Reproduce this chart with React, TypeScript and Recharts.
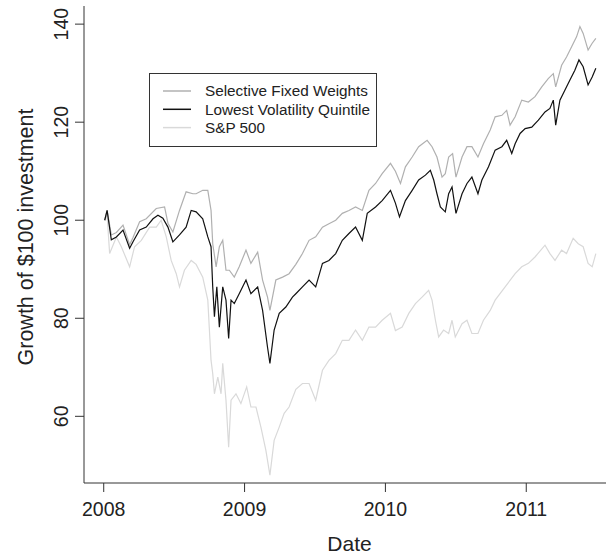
import { LineChart, Line, XAxis, YAxis, Legend } from 'recharts';

const FONT = '"Liberation Sans", Arial, Helvetica, sans-serif';
const TEXT = '#222';
const FRAME = '#333';

const SERIES_NAMES = ['Selective Fixed Weights', 'Lowest Volatility Quintile', 'S&P 500'];
const SERIES_COLORS = ['#b0b0b0', '#111111', '#d9d9d9'];

const X_TICKS = [2008, 2009, 2010, 2011];
const Y_TICKS = [60, 80, 100, 120, 140];

// Selective Fixed Weights
const sfwDates = [
  2008.007, 2008.024, 2008.054, 2008.09, 2008.137, 2008.184, 2008.208, 2008.255, 2008.302, 2008.373,
  2008.432, 2008.456, 2008.491, 2008.538, 2008.585, 2008.633, 2008.656, 2008.703, 2008.739, 2008.762,
  2008.774, 2008.798, 2008.821, 2008.845, 2008.868, 2008.892, 2008.927, 2008.962, 2009.01, 2009.045,
  2009.093, 2009.128, 2009.163, 2009.18, 2009.222, 2009.27, 2009.316, 2009.364, 2009.411, 2009.458,
  2009.505, 2009.553, 2009.599, 2009.647, 2009.694, 2009.741, 2009.788, 2009.836, 2009.883, 2009.93,
  2009.977, 2010.036, 2010.071, 2010.107, 2010.142, 2010.19, 2010.236, 2010.296, 2010.331, 2010.366,
  2010.402, 2010.425, 2010.449, 2010.477, 2010.501, 2010.544, 2010.579, 2010.614, 2010.657, 2010.696,
  2010.744, 2010.779, 2010.827, 2010.861, 2010.885, 2010.921, 2010.968, 2011.015, 2011.062, 2011.11,
  2011.156, 2011.192, 2011.209, 2011.251, 2011.286, 2011.322, 2011.357, 2011.381, 2011.404, 2011.439,
  2011.468, 2011.494,
];
const sfwValues = [
  100, 102, 97, 97.5, 99, 95, 96.5, 99.7, 100.3, 102.4,
  102.7, 99.4, 97.6, 102, 105.8, 105.4, 105.4, 106.1, 106.1, 102,
  95.2, 90.5, 94.6, 95.9, 89.8, 89.8, 88.4, 90.5, 93.9, 91.2,
  93.5, 87.8, 84.3, 81.6, 87.8, 88.4, 89.1, 91, 93.2, 95.9,
  96.6, 98.6, 99.3, 100, 101.4, 102, 102.7, 102, 106.1, 107.5,
  109.5, 111.6, 110, 107.5, 110.9, 112.9, 115, 116.3, 115, 112.9,
  108.8, 109.5, 112.9, 113.6, 108.8, 112.9, 115, 115, 112.9, 115.6,
  118.4, 121.1, 121.4, 122.4, 119.4, 121.1, 124.5, 124.1, 125.2, 127.2,
  128.9, 129.9, 127.2, 131.6, 133.3, 135.4, 137.4, 139.5, 138.1, 134.7,
  136.1, 137.1,
];

// Lowest Volatility Quintile
const lvqDates = [
  2008.007, 2008.024, 2008.054, 2008.09, 2008.137, 2008.184, 2008.208, 2008.255, 2008.302, 2008.35,
  2008.385, 2008.42, 2008.456, 2008.491, 2008.538, 2008.585, 2008.621, 2008.656, 2008.703, 2008.739,
  2008.762, 2008.774, 2008.786, 2008.803, 2008.821, 2008.845, 2008.868, 2008.887, 2008.904, 2008.927,
  2008.962, 2009.01, 2009.045, 2009.093, 2009.128, 2009.163, 2009.18, 2009.21, 2009.246, 2009.293,
  2009.34, 2009.364, 2009.411, 2009.458, 2009.505, 2009.553, 2009.599, 2009.647, 2009.694, 2009.741,
  2009.788, 2009.836, 2009.871, 2009.93, 2009.977, 2010.036, 2010.071, 2010.1, 2010.142, 2010.19,
  2010.236, 2010.284, 2010.319, 2010.343, 2010.366, 2010.39, 2010.425, 2010.449, 2010.473, 2010.501,
  2010.544, 2010.579, 2010.614, 2010.657, 2010.685, 2010.732, 2010.779, 2010.827, 2010.861, 2010.897,
  2010.921, 2010.956, 2010.992, 2011.039, 2011.086, 2011.133, 2011.168, 2011.192, 2011.209, 2011.239,
  2011.274, 2011.31, 2011.345, 2011.374, 2011.404, 2011.439, 2011.468, 2011.494,
];
const lvqValues = [
  100, 102, 96, 96.6, 98, 94.3, 95.6, 98, 98.6, 100.3,
  101, 100.4, 98.6, 95.6, 97, 98.6, 102, 101.7, 100.3, 96.6,
  94.6, 86.4, 80.3, 86.4, 78.2, 86.4, 83.7, 75.9, 83.7, 83,
  85, 87.8, 85, 86.4, 81.6, 74.1, 70.8, 77.6, 81, 82.3,
  84.3, 85, 86.4, 87.8, 86.4, 91.2, 91.8, 93.2, 95.9, 97.3,
  98.6, 95.9, 101.4, 102.7, 104, 106.1, 103.5, 100.7, 104, 106.1,
  108.2, 109.2, 110.2, 108.2, 105.4, 102.7, 101.7, 105.4, 106.8, 101.4,
  105.4, 107.5, 108.8, 105.4, 108.2, 110.9, 114.3, 115, 116.3, 113.6,
  115.6, 117.7, 118.7, 119, 120.4, 122.1, 122.8, 124.5, 119.4, 124.5,
  126.5, 128.6, 130.6, 132.7, 131.3, 127.6, 129.2, 131,
];

// S&P 500
const spxDates = [
  2008.007, 2008.024, 2008.042, 2008.09, 2008.125, 2008.184, 2008.219, 2008.267, 2008.326, 2008.373,
  2008.408, 2008.444, 2008.479, 2008.515, 2008.538, 2008.573, 2008.621, 2008.656, 2008.703, 2008.739,
  2008.762, 2008.774, 2008.786, 2008.81, 2008.833, 2008.845, 2008.868, 2008.887, 2008.904, 2008.939,
  2008.974, 2009.015, 2009.045, 2009.081, 2009.116, 2009.151, 2009.18, 2009.21, 2009.246, 2009.281,
  2009.316, 2009.364, 2009.411, 2009.458, 2009.505, 2009.553, 2009.599, 2009.647, 2009.694, 2009.741,
  2009.788, 2009.836, 2009.883, 2009.93, 2009.977, 2010.036, 2010.071, 2010.119, 2010.166, 2010.213,
  2010.26, 2010.307, 2010.331, 2010.355, 2010.378, 2010.413, 2010.449, 2010.473, 2010.496, 2010.544,
  2010.579, 2010.614, 2010.657, 2010.696, 2010.744, 2010.779, 2010.85, 2010.921, 2010.968, 2011.015,
  2011.062, 2011.133, 2011.168, 2011.204, 2011.251, 2011.286, 2011.333, 2011.369, 2011.404, 2011.439,
  2011.468, 2011.494,
];
const spxValues = [
  100, 101, 93.2, 96.6, 94.6, 90.5, 94.6, 95.9, 98.6, 98.6,
  100, 96.6, 91.8, 89.1, 86.4, 89.8, 91.8, 91, 88.4, 83.7,
  71.4, 68.7, 64.6, 68, 64.6, 70.8, 63.3, 53.7, 63.3, 64.6,
  62.6, 66, 61.9, 61.9, 57.8, 53.1, 48, 55.1, 57.8, 60.6,
  61.9, 65.5, 66.7, 66.7, 63.3, 69.4, 71.4, 72.8, 75.5, 75.5,
  77.6, 75.5, 78.2, 78.2, 79.6, 81, 77.5, 78.2, 81, 83,
  84.3, 85.7, 83.7, 79.6, 76.2, 77.6, 76.9, 79.6, 76.2, 78.9,
  79.6, 76.9, 76.9, 79.6, 81.6, 83.7, 86.4, 89.1, 90.5, 91.2,
  92.5, 94.9, 93.2, 91.8, 93.9, 93.2, 96.3, 95.2, 94.6, 91.2,
  90.5, 93.2,
];

const toPoints = (dates: number[], values: number[]) =>
  dates.map((t, i) => ({ t, v: values[i] }));

const sfwData = toPoints(sfwDates, sfwValues);
const lvqData = toPoints(lvqDates, lvqValues);
const spxData = toPoints(spxDates, spxValues);

const XTick = ({ x, payload }: any) => (
  <text x={x} y={516} textAnchor="middle" fill={TEXT} fontFamily={FONT} fontSize={19.5}>
    {payload.value}
  </text>
);

const YTick = ({ y, payload }: any) => (
  <text
    transform={`translate(68, ${y}) rotate(-90)`}
    textAnchor="middle"
    fill={TEXT}
    fontFamily={FONT}
    fontSize={19.5}
  >
    {payload.value}
  </text>
);

const LegendBox = () => (
  <svg width={228} height={74} style={{ display: 'block' }}>
    <rect x={0.5} y={0.5} width={227} height={73} fill="#fff" stroke={FRAME} strokeWidth={1} />
    {SERIES_NAMES.map((name, i) => {
      const y = 18 + i * 18.3;
      return (
        <g key={name}>
          <line x1={14} x2={42} y1={y} y2={y} stroke={SERIES_COLORS[i]} strokeWidth={1.5} />
          <text x={56} y={y + 5.3} fill={TEXT} fontFamily={FONT} fontSize={15.3}>
            {name}
          </text>
        </g>
      );
    })}
  </svg>
);

export default function App() {
  return (
    <div
      style={{
        position: 'absolute',
        left: 0,
        top: 0,
        width: 606,
        height: 555,
        overflow: 'hidden',
        background: '#fff',
      }}
    >
      <LineChart width={620} height={555} margin={{ top: 6, right: 5, bottom: 0, left: 0 }}>
        <XAxis
          type="number"
          dataKey="t"
          domain={[2007.86, 2011.63]}
          ticks={X_TICKS}
          height={72}
          tickSize={9}
          tick={<XTick />}
          axisLine={{ stroke: FRAME }}
          tickLine={{ stroke: FRAME }}
          allowDataOverflow
        />
        <XAxis
          xAxisId="top"
          orientation="top"
          type="number"
          domain={[2007.86, 2011.63]}
          height={0}
          tick={false}
          tickLine={false}
          axisLine={{ stroke: FRAME }}
        />
        <YAxis
          type="number"
          domain={[46.4, 143.7]}
          ticks={Y_TICKS}
          width={84}
          tickSize={9}
          tick={<YTick />}
          axisLine={{ stroke: FRAME }}
          tickLine={{ stroke: FRAME }}
          allowDataOverflow
        />
        <Legend
          layout="vertical"
          align="center"
          verticalAlign="middle"
          content={<LegendBox />}
          wrapperStyle={{ position: 'absolute', left: 149, top: 73, width: 228, height: 74 }}
        />
        <Line
          data={spxData}
          dataKey="v"
          name={SERIES_NAMES[2]}
          stroke={SERIES_COLORS[2]}
          strokeWidth={1.2}
          dot={false}
          type="linear"
          isAnimationActive={false}
        />
        <Line
          data={sfwData}
          dataKey="v"
          name={SERIES_NAMES[0]}
          stroke={SERIES_COLORS[0]}
          strokeWidth={1.2}
          dot={false}
          type="linear"
          isAnimationActive={false}
        />
        <Line
          data={lvqData}
          dataKey="v"
          name={SERIES_NAMES[1]}
          stroke={SERIES_COLORS[1]}
          strokeWidth={1.2}
          dot={false}
          type="linear"
          isAnimationActive={false}
        />
      </LineChart>
      <svg
        width={606}
        height={555}
        style={{ position: 'absolute', left: 0, top: 0, pointerEvents: 'none' }}
      >
        <text x={349.5} y={551} textAnchor="middle" fill={TEXT} fontFamily={FONT} fontSize={21}>
          Date
        </text>
        <text
          transform="translate(32.5, 237) rotate(-90)"
          textAnchor="middle"
          fill={TEXT}
          fontFamily={FONT}
          fontSize={21.5}
        >
          Growth of $100 investment
        </text>
      </svg>
    </div>
  );
}
